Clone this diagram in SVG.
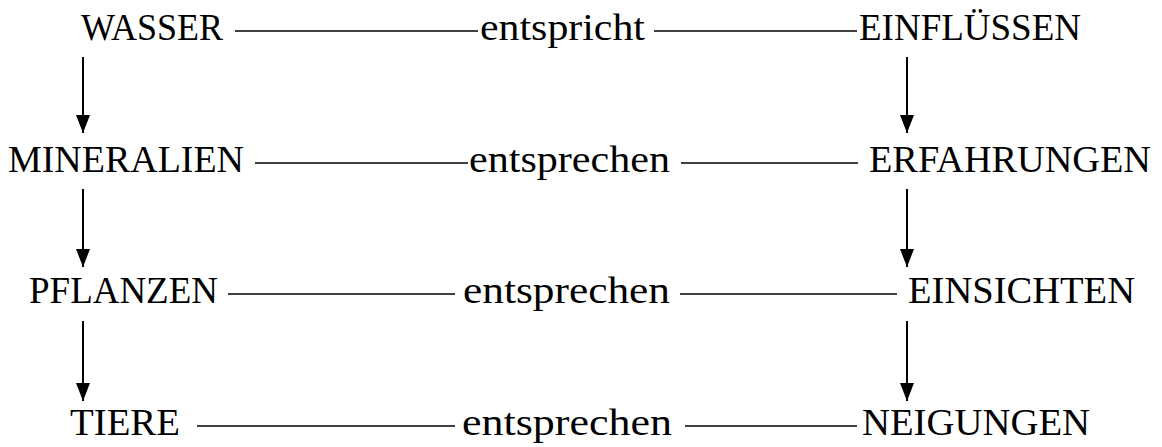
<svg xmlns="http://www.w3.org/2000/svg" width="1162" height="447" viewBox="0 0 1162 447">
  <defs>
    <style>
      .t { font-family: "Liberation Serif", "DejaVu Serif", serif; font-size: 38px; fill: #000; }
      .dash { stroke: #000; stroke-width: 1.6; fill: none; }
      .arr { stroke: #000; stroke-width: 2; fill: none; marker-end: url(#head); }
    </style>
    <marker id="head" viewBox="0 0 18 14" refX="18" refY="7" markerWidth="18" markerHeight="14" markerUnits="userSpaceOnUse" orient="auto">
      <path d="M0,0 L18,7 L0,14 Z" fill="#000"/>
    </marker>
  </defs>
  <rect width="1162" height="447" fill="#fff"/>

  <!-- left column -->
  <g id="wasser"><text class="t" x="81" y="40" textLength="142" lengthAdjust="spacingAndGlyphs">WASSER</text></g>
  <g id="mineralien"><text class="t" x="8" y="172" textLength="236" lengthAdjust="spacingAndGlyphs">MINERALIEN</text></g>
  <g id="pflanzen"><text class="t" x="29" y="303" textLength="189" lengthAdjust="spacingAndGlyphs">PFLANZEN</text></g>
  <g id="tiere"><text class="t" x="70" y="435" textLength="110" lengthAdjust="spacingAndGlyphs">TIERE</text></g>

  <!-- right column -->
  <g id="einfluessen"><text class="t" x="859" y="40" textLength="222" lengthAdjust="spacingAndGlyphs">EINFLÜSSEN</text></g>
  <g id="erfahrungen"><text class="t" x="869" y="172" textLength="282" lengthAdjust="spacingAndGlyphs">ERFAHRUNGEN</text></g>
  <g id="einsichten"><text class="t" x="908" y="303" textLength="227" lengthAdjust="spacingAndGlyphs">EINSICHTEN</text></g>
  <g id="neigungen"><text class="t" x="862" y="435" textLength="228" lengthAdjust="spacingAndGlyphs">NEIGUNGEN</text></g>

  <!-- middle labels -->
  <g id="rel1"><text class="t" x="480" y="40" textLength="165" lengthAdjust="spacingAndGlyphs">entspricht</text></g>
  <g id="rel2"><text class="t" x="469" y="172" textLength="201" lengthAdjust="spacingAndGlyphs">entsprechen</text></g>
  <g id="rel3"><text class="t" x="463" y="303" textLength="207" lengthAdjust="spacingAndGlyphs">entsprechen</text></g>
  <g id="rel4"><text class="t" x="462" y="435" textLength="210" lengthAdjust="spacingAndGlyphs">entsprechen</text></g>

  <g id="connectors">
    <!-- horizontal rules -->
    <line class="dash" x1="235" y1="31" x2="478" y2="31"/>
    <line class="dash" x1="654" y1="31" x2="857" y2="31"/>
    <line class="dash" x1="255" y1="163" x2="468" y2="163"/>
    <line class="dash" x1="681" y1="163" x2="858" y2="163"/>
    <line class="dash" x1="228" y1="294" x2="455" y2="294"/>
    <line class="dash" x1="680" y1="294" x2="897" y2="294"/>
    <line class="dash" x1="197" y1="426" x2="455" y2="426"/>
    <line class="dash" x1="685" y1="426" x2="857" y2="426"/>
    <!-- downward arrows -->
    <line class="arr" x1="83" y1="57" x2="83" y2="133"/>
    <line class="arr" x1="83" y1="189" x2="83" y2="267"/>
    <line class="arr" x1="83" y1="321" x2="83" y2="401"/>
    <line class="arr" x1="907" y1="57" x2="907" y2="133"/>
    <line class="arr" x1="907" y1="189" x2="907" y2="267"/>
    <line class="arr" x1="907" y1="321" x2="907" y2="401"/>
  </g>
</svg>
